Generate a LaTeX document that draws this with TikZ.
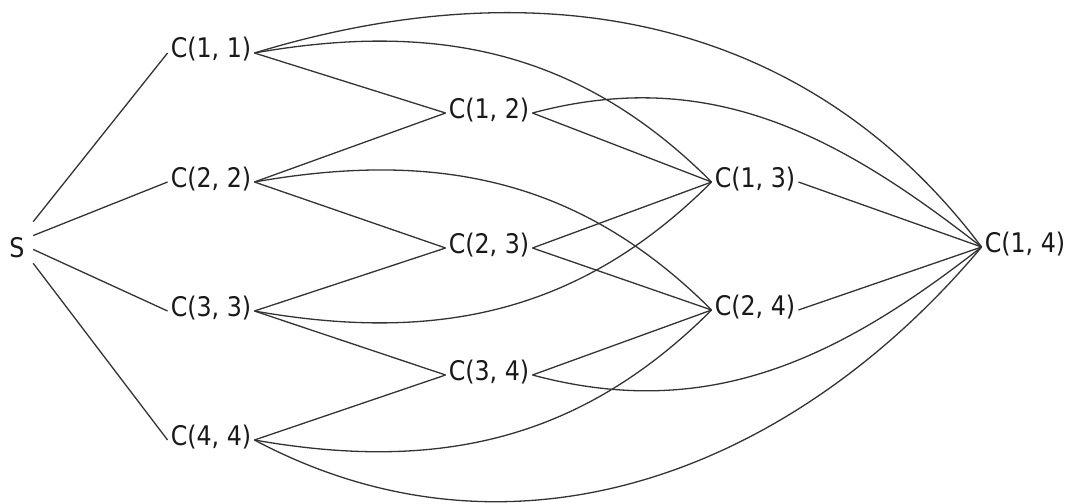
\documentclass[tikz,border=0pt]{standalone}
\usepackage{fontspec}
\setmainfont{DejaVu Sans}[FakeStretch=0.88]
\usepackage{tikz}
\usetikzlibrary{positioning}

\begin{document}
\begin{tikzpicture}[x=1pt,y=1pt,
        lbl/.style={inner xsep=3pt, inner ysep=0pt, text height=20pt, text depth=10pt,
                    text=black!90, font=\fontsize{27}{30}\selectfont},
        wire/.style={draw=black!80, line width=1.3pt}]
                \useasboundingbox (0,0) rectangle (1075,-503);
                \node[lbl, text height=30pt, text depth=0pt, inner sep=0pt,
                      minimum width=32pt, minimum height=48pt] (s) at (17,-242) {S};
                \node[lbl] (c11) at (211,-53) {C(1, 1)};
                \node[lbl] (c22) at (211,-182) {C(2, 2)};
                \node[lbl] (c33) at (211,-311) {C(3, 3)};
                \node[lbl] (c44) at (211,-440) {C(4, 4)};
                \node[lbl] (c12) at (489,-113) {C(1, 2)};
                \node[lbl] (c23) at (489,-248) {C(2, 3)};
                \node[lbl] (c34) at (489,-375) {C(3, 4)};
                \node[lbl] (c13) at (755,-182) {C(1, 3)};
                \node[lbl] (c24) at (755,-310) {C(2, 4)};
                \node[lbl] (c14) at (1025,-247) {C(1, 4)};
                % from S
                \draw[wire] (s) -- (c11.west);
                \draw[wire] (s) -- (c22.west);
                \draw[wire] (s) -- (c33.west);
                \draw[wire] (s) -- (c44.west);
                % straight steps
                \draw[wire] (c11.east) -- (c12.west);
                \draw[wire] (c22.east) -- (c12.west);
                \draw[wire] (c22.east) -- (c23.west);
                \draw[wire] (c33.east) -- (c23.west);
                \draw[wire] (c33.east) -- (c34.west);
                \draw[wire] (c44.east) -- (c34.west);
                \draw[wire] (c12.east) -- (c13.west);
                \draw[wire] (c23.east) -- (c13.west);
                \draw[wire] (c23.east) -- (c24.west);
                \draw[wire] (c34.east) -- (c24.west);
                \draw[wire] (c13.east) -- (c14.west);
                \draw[wire] (c24.east) -- (c14.west);
                % long arcs
                \draw[wire] (c11.east) to[out=17,in=127] (c14.west);
                \draw[wire] (c11.east) to[out=10,in=135] (c13.west);
                \draw[wire] (c12.east) to[out=15,in=142] (c14.west);
                \draw[wire] (c22.east) to[out=10,in=135] (c24.west);
                \draw[wire] (c33.east) to[out=-10,in=-135] (c13.west);
                \draw[wire] (c34.east) to[out=-15,in=-142] (c14.west);
                \draw[wire] (c44.east) to[out=-10,in=-135] (c24.west);
                \draw[wire] (c44.east) to[out=-28,in=-130] (c14.west);
            \end{tikzpicture}
\end{document}
